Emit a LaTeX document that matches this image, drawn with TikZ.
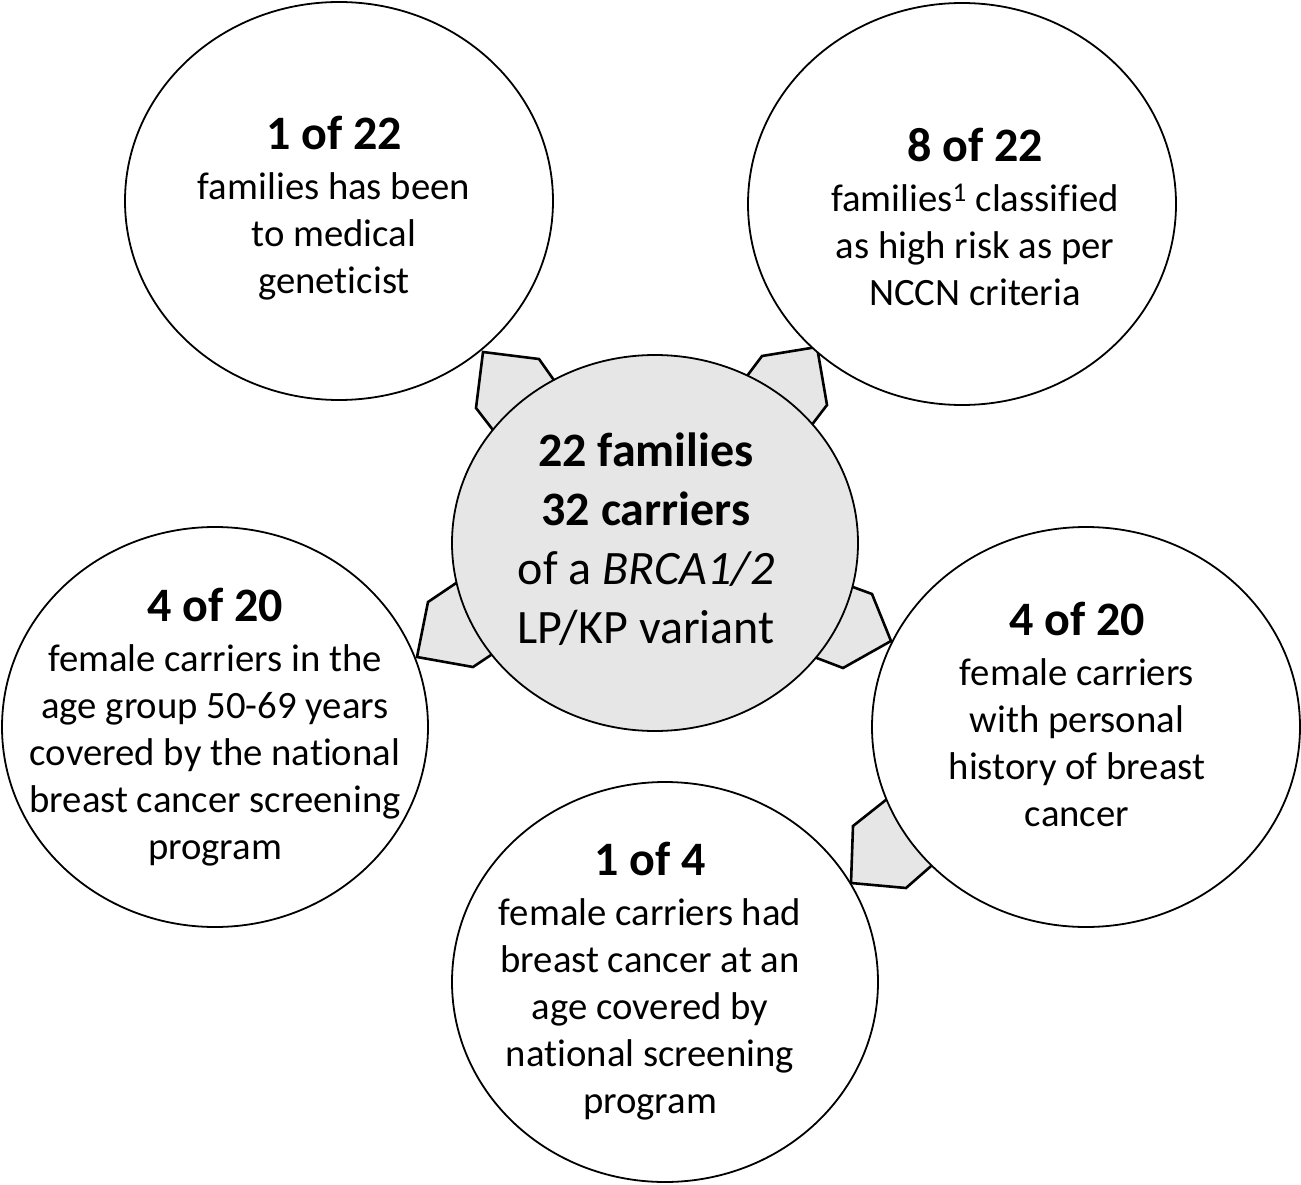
\documentclass[tikz,border=0pt]{standalone}
\usepackage{fontspec}
\setmainfont{Carlito}[Ligatures=NoCommon]
\usetikzlibrary{shapes.geometric}
\pgfdeclarelayer{bg}
\pgfsetlayers{bg,main}
\definecolor{hubgray}{RGB}{231,230,230}
\begin{document}
\begin{tikzpicture}[x=1pt,y=-1pt,
  bubble/.style={ellipse, draw=black, line width=1.8pt, fill=white, inner sep=0pt},
  hub/.style={bubble, fill=hubgray},
  link/.style={draw=black, line width=2.6pt, fill=hubgray, line join=miter},
  txt/.style={align=center, inner sep=0pt, anchor=base, font=\fontsize{38.7}{47}\selectfont},
  hubtxt/.style={align=center, inner sep=0pt, anchor=base, font=\fontsize{48}{59}\selectfont}]
\newcommand{\hd}[1]{{\fontsize{48}{47}\selectfont\bfseries #1}\\[3pt]}
\useasboundingbox (0,0) rectangle (1301,1185);

% circles
\node[bubble, minimum width=428pt, minimum height=398pt] (tl) at (339,201) {};
\node[bubble, minimum width=428pt, minimum height=402pt] (tr) at (962,204) {};
\node[hub,    minimum width=406pt, minimum height=376pt] (hub) at (655,543) {};
\node[bubble, minimum width=426pt, minimum height=400pt] (lf) at (215,727) {};
\node[bubble, minimum width=428pt, minimum height=400pt] (rt) at (1086,727) {};
\node[bubble, minimum width=426pt, minimum height=400pt] (bt) at (665,982) {};

% block connectors (under the circles)
\begin{pgfonlayer}{bg}
\path[link] (563,393) -- (539,359) -- (483,352) -- (476,408) -- (503,443) -- cycle;
\path[link] (738,388) -- (762,356) -- (817,347) -- (827,405) -- (801,439) -- cycle;
\path[link] (471,573) -- (428,602) -- (417,657) -- (473,667) -- (500,649) -- cycle;
\path[link] (842,583) -- (872,594) -- (891,641) -- (843,668) -- (801,652) -- cycle;
\path[link] (906,784) -- (853,826) -- (851,883) -- (906,888) -- (946,853) -- cycle;
\end{pgfonlayer}

% texts (anchor = baseline of the last line)
\node[txt] (tltxt) at (334,293) {\hd{1 of 22}families has been\\to medical\\geneticist};
\node[txt] (trtxt) at (975,305) {\hd{8 of 22}families\textsuperscript{1} classified\\as high risk as per\\NCCN criteria};
\node[hubtxt] (hubtxt) at (646,643) {\textbf{22 families}\\\textbf{32 carriers}\\of a \textit{BRCA1/2}\\LP/KP variant};
\node[txt] (lftxt) at (215,859) {\hd{4 of 20}female carriers in the\\age group 50-69 years\\covered by the national\\breast cancer screening\\program};
\node[txt] (rttxt) at (1077,826) {\hd{4 of 20}female carriers\\with personal\\history of breast\\cancer};
\node[txt] (bttxt) at (650,1113) {\hd{1 of 4}female carriers had\\breast cancer at an\\age covered by\\national screening\\program};
\end{tikzpicture}
\end{document}
